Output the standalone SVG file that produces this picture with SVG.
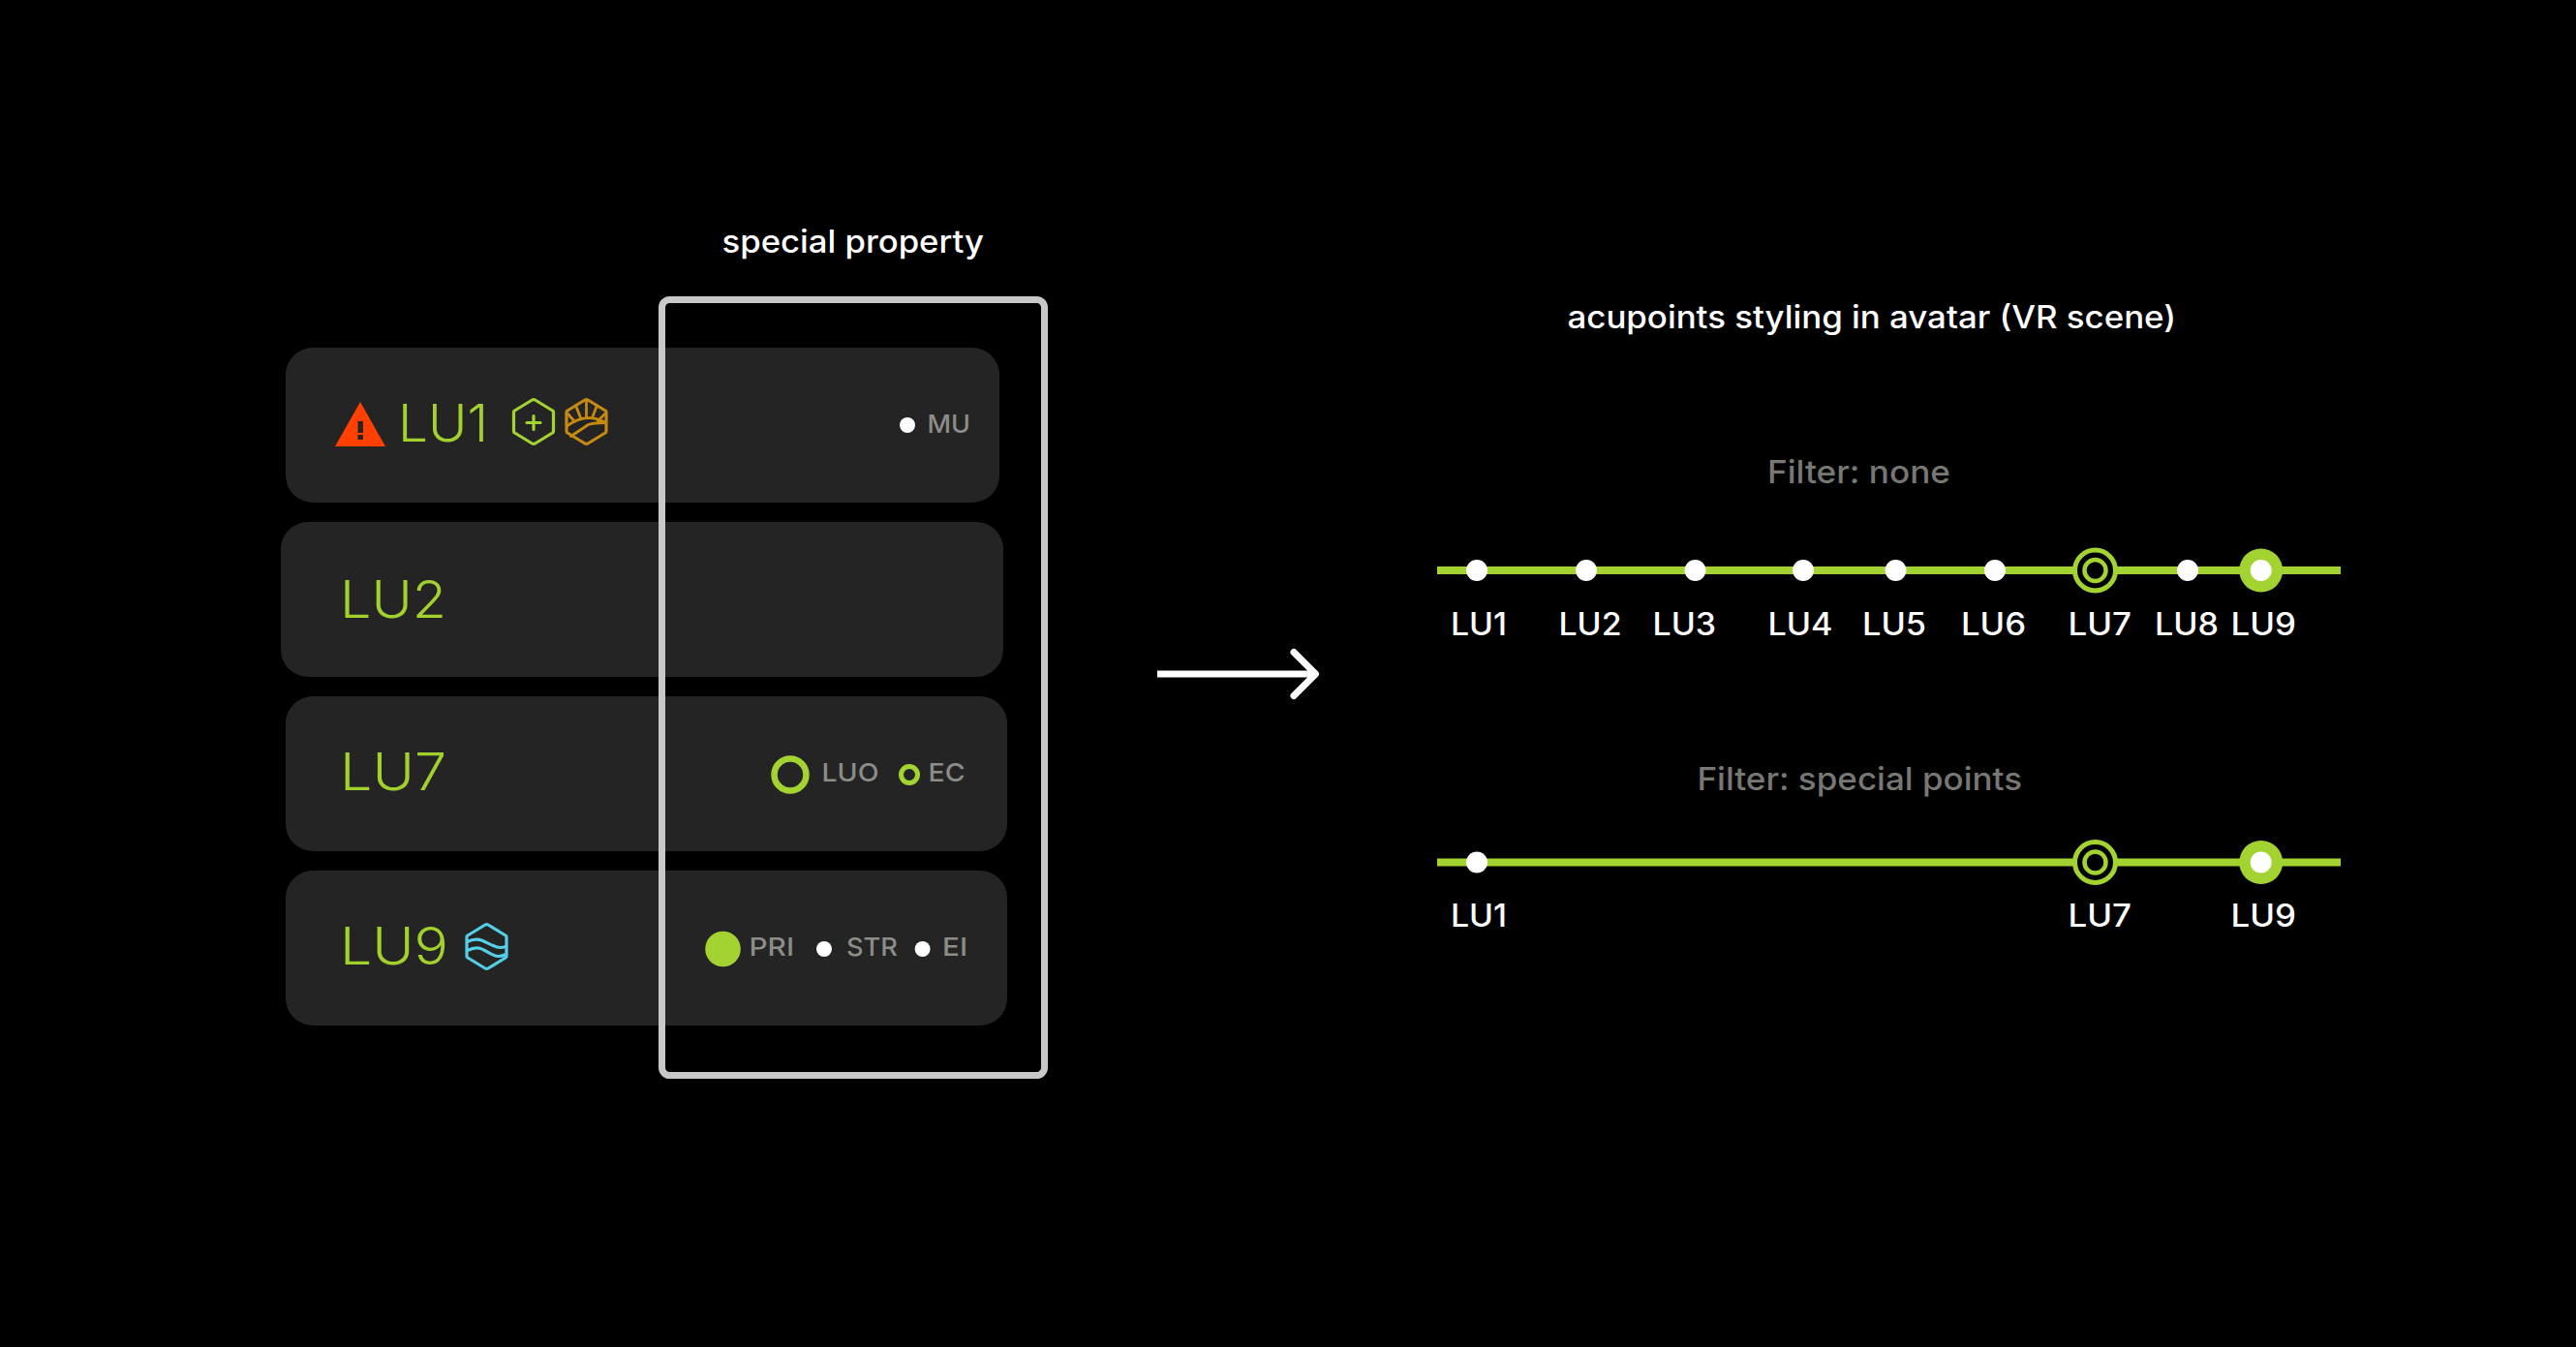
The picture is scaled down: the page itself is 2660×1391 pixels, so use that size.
<svg xmlns="http://www.w3.org/2000/svg" width="2660" height="1391" viewBox="0 0 2660 1391">
<style>
text{font-family:"Inter","Liberation Sans",sans-serif}
.card{fill:#242424}
.big{font-size:54px;font-weight:300;fill:#a2d12e}
.tag{font-size:26px;font-weight:500;fill:#8c8c88}
.lab{font-size:32px;font-weight:500;fill:#fff}
.head{font-size:32px;font-weight:500;fill:#fff}
.filt{font-size:33px;font-weight:500;fill:#777773}
.bar{stroke:#a3d331;stroke-width:8;fill:none}
.dot{fill:#fff}
.grn{fill:#a3d331}
.ico{fill:none;stroke-width:3.2;stroke-linejoin:round;stroke-linecap:round}
</style>
<defs>
<path id="hex" d="M-1.5 -22.5 Q0 -23.4 1.5 -22.5 L19.5 -11.5 Q20.5 -11 20.5 -10 V10 Q20.5 11 19.5 11.5 L1.5 22.5 Q0 23.4 -1.5 22.5 L-19.5 11.5 Q-20.5 11 -20.5 10 V-10 Q-20.5 -11 -19.5 -11.5 Z"/>
<g id="tgt"><circle r="21" fill="#000" stroke="#a3d331" stroke-width="5"/><circle r="11" fill="#000" stroke="#a3d331" stroke-width="4.5"/></g>
<g id="pri"><circle r="22.5" class="grn"/><circle r="11" class="dot"/></g>
</defs>
<rect width="2660" height="1391" fill="#000"/>
<g id="lu1"><rect class="card" x="295" y="359" width="737" height="160" rx="28"/>
<path d="M372 415 L398 461 H346 Z" fill="#ff4000"/>
<path d="M369.5 435 h5.4 v12 h-5.4 z M369.5 449 h5.4 v5 h-5.4 z" fill="#242424"/>
<text class="big" x="411" y="456" textLength="93" lengthAdjust="spacingAndGlyphs">LU1</text>
<g transform="translate(551 435.5)" class="ico" stroke="#a3d331"><use href="#hex"/><path d="M-7 1H7M0 -6V8"/></g>
<g transform="translate(605.5 435.5)" class="ico" stroke="#c58a10"><use href="#hex"/><path d="M-19.5 4 Q0 -10 20 1 M-16 15 L2 3 Q8 1 20 1 M0 -22 V-5 M-11 -17 L-6 -4 M-19 -8 L-12 0 M11 -17 L6 -4 M19 -8 L12 -1" stroke-width="2.8"/></g>
<circle class="dot" cx="937" cy="439" r="8"/>
<text class="tag" x="957.5" y="447" textLength="44.5" lengthAdjust="spacingAndGlyphs">MU</text></g>
<g id="lu2"><rect class="card" x="290" y="539" width="746" height="160" rx="28"/>
<text class="big" x="351" y="638" textLength="110" lengthAdjust="spacingAndGlyphs">LU2</text></g>
<g id="lu7"><rect class="card" x="295" y="719" width="745" height="160" rx="28"/>
<text class="big" x="351" y="816" textLength="110" lengthAdjust="spacingAndGlyphs">LU7</text>
<circle cx="816" cy="800" r="16.5" fill="none" stroke="#a3d331" stroke-width="6.5"/>
<text class="tag" x="848.5" y="807" textLength="59" lengthAdjust="spacingAndGlyphs">LUO</text>
<circle cx="939" cy="800" r="8.5" fill="none" stroke="#a3d331" stroke-width="5"/>
<text class="tag" x="958.5" y="807" textLength="38" lengthAdjust="spacingAndGlyphs">EC</text></g>
<g id="lu9"><rect class="card" x="295" y="899" width="745" height="160" rx="28"/>
<text class="big" x="351" y="996" textLength="112" lengthAdjust="spacingAndGlyphs">LU9</text>
<g transform="translate(502.5 977.5)" class="ico" stroke="#55cfe8"><use href="#hex"/><path d="M-20 -5 C-14 -8 -9 -8 -4 -6 C3 -3 8 1 14 1 Q17 1 20 0 M-20 4 C-14 1 -9 0 -4 3 C3 6 7 10 12 10 Q16 10 20 8"/></g>
<circle class="grn" cx="746.5" cy="980" r="18.3"/>
<text class="tag" x="773.5" y="987" textLength="46.5" lengthAdjust="spacingAndGlyphs">PRI</text>
<circle class="dot" cx="851" cy="980" r="8"/>
<text class="tag" x="874" y="987" textLength="53" lengthAdjust="spacingAndGlyphs">STR</text>
<circle class="dot" cx="952.6" cy="980" r="8"/>
<text class="tag" x="973" y="987" textLength="26" lengthAdjust="spacingAndGlyphs">EI</text></g>
<g id="frame"><rect x="683.5" y="309.5" width="395" height="801" rx="8" fill="none" stroke="#c8c8c8" stroke-width="7"/></g>
<text class="head" x="745.5" y="261" textLength="270.5" lengthAdjust="spacingAndGlyphs">special property</text>
<text class="head" x="1618.5" y="339" textLength="628.5" lengthAdjust="spacingAndGlyphs">acupoints styling in avatar (VR scene)</text>
<text class="filt" x="1825" y="499" textLength="189" lengthAdjust="spacingAndGlyphs">Filter: none</text>
<text class="filt" x="1752.5" y="816" textLength="335.5" lengthAdjust="spacingAndGlyphs">Filter: special points</text>
<g id="connectors">
<path d="M1195 696 H1356" fill="none" stroke="#fff" stroke-width="7"/>
<path d="M1336 673.5 L1358.5 696 L1336 718.5" fill="none" stroke="#fff" stroke-width="7" stroke-linecap="round" stroke-linejoin="round"/>
<path class="bar" d="M1484 589 H2417"/>
<path class="bar" d="M1484 890.5 H2417"/>
</g>
<g id="track-none">
<circle class="dot" cx="1525" cy="589" r="11"/><circle class="dot" cx="1638" cy="589" r="11"/><circle class="dot" cx="1750.5" cy="589" r="11"/><circle class="dot" cx="1862" cy="589" r="11"/><circle class="dot" cx="1957.5" cy="589" r="11"/><circle class="dot" cx="2060" cy="589" r="11"/><use href="#tgt" x="2163.5" y="589"/><circle class="dot" cx="2259" cy="589" r="11"/><use href="#pri" x="2334.7" y="589"/>
<text class="lab" x="1498" y="656" textLength="58" lengthAdjust="spacingAndGlyphs">LU1</text>
<text class="lab" x="1609.5" y="656" textLength="65" lengthAdjust="spacingAndGlyphs">LU2</text>
<text class="lab" x="1706.5" y="656" textLength="65.5" lengthAdjust="spacingAndGlyphs">LU3</text>
<text class="lab" x="1825.5" y="656" textLength="67" lengthAdjust="spacingAndGlyphs">LU4</text>
<text class="lab" x="1923" y="656" textLength="66" lengthAdjust="spacingAndGlyphs">LU5</text>
<text class="lab" x="2025" y="656" textLength="67" lengthAdjust="spacingAndGlyphs">LU6</text>
<text class="lab" x="2135.5" y="656" textLength="65.5" lengthAdjust="spacingAndGlyphs">LU7</text>
<text class="lab" x="2225" y="656" textLength="66" lengthAdjust="spacingAndGlyphs">LU8</text>
<text class="lab" x="2303.5" y="656" textLength="67.5" lengthAdjust="spacingAndGlyphs">LU9</text>
</g>
<g id="track-special">
<circle class="dot" cx="1525" cy="890.5" r="11"/><use href="#tgt" x="2163.5" y="890.5"/><use href="#pri" x="2334.7" y="890.5"/>
<text class="lab" x="1498" y="957" textLength="58" lengthAdjust="spacingAndGlyphs">LU1</text>
<text class="lab" x="2135.5" y="957" textLength="65.5" lengthAdjust="spacingAndGlyphs">LU7</text>
<text class="lab" x="2303.5" y="957" textLength="67.5" lengthAdjust="spacingAndGlyphs">LU9</text>
</g>
</svg>
